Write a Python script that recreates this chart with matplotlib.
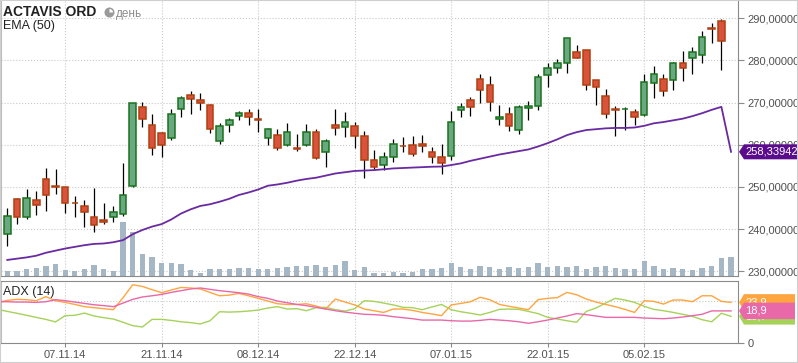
# -*- coding: utf-8 -*-
"""
Grafico de velas ACTAVIS ORD con EMA(50), volumen y panel ADX(14).
"""
import numpy as np
import matplotlib
matplotlib.use('Agg')
import matplotlib.pyplot as plt
from matplotlib.patches import Rectangle, Polygon, Circle, Wedge
from matplotlib.transforms import blended_transform_factory, Affine2D

plt.rcParams['font.family'] = ['Liberation Sans', 'DejaVu Sans']

# Datos diarios (30.10.14 - 18.02.15)
apertura = [238.9, 247.1, 242.8, 246.8, 251.8, 250.35, 250.0, 246.25, 245.6, 242.8,
            242.1, 242.8, 243.6, 250.3, 269.05, 264.8, 262.9, 261.7, 268.6, 271.7,
            270.7, 269.5, 261.0, 264.8, 266.9, 267.6, 266.2, 261.5, 262.4, 260.0,
            259.35, 260.0, 263.1, 258.2, 264.8, 264.3, 264.55, 262.0, 256.5, 255.1,
            257.2, 259.8, 260.05, 260.3, 258.2, 257.2, 257.4, 268.3, 270.7, 275.5,
            274.1, 266.2, 267.2, 263.4, 268.8, 269.1, 276.5, 278.1, 279.5, 281.9,
            282.4, 275.3, 271.5, 268.5, 268.4, 267.7, 267.1, 274.6, 275.5, 275.3,
            279.3, 280.7, 281.2, 287.6, 289.3]
maximo = [245.0, 247.3, 249.5, 249.0, 254.5, 254.2, 250.1, 247.8, 246.9, 249.7,
          246.3, 245.4, 255.6, 269.8, 270.2, 267.2, 263.0, 268.4, 271.5, 272.8,
          272.4, 269.6, 265.2, 266.45, 267.95, 268.4, 268.4, 264.0, 263.7, 265.1,
          262.5, 264.9, 263.7, 261.3, 268.4, 267.7, 265.5, 263.2, 258.7, 258.2,
          261.3, 261.8, 262.0, 262.3, 259.4, 260.1, 268.0, 270.0, 271.4, 276.8,
          276.3, 269.4, 268.9, 269.4, 270.4, 276.9, 279.4, 280.3, 285.3, 283.7,
          282.6, 275.4, 273.2, 269.3, 268.9, 268.5, 276.8, 278.7, 276.8, 279.7,
          282.2, 283.1, 287.1, 288.8, 289.8]
minimo = [236.1, 241.3, 242.5, 243.4, 244.3, 248.4, 243.9, 242.9, 240.6, 239.4,
          241.3, 241.7, 243.2, 250.0, 264.2, 257.6, 257.1, 261.2, 266.6, 267.3,
          268.3, 262.8, 260.2, 263.05, 265.9, 264.7, 263.05, 260.0, 258.8, 259.7,
          258.6, 259.7, 256.7, 254.8, 262.3, 261.9, 259.3, 252.2, 254.3, 254.1,
          256.0, 258.3, 257.4, 258.3, 255.7, 253.1, 256.3, 266.5, 266.8, 269.9,
          268.1, 264.7, 263.3, 262.6, 265.9, 268.3, 273.8, 277.1, 277.1, 280.5,
          273.1, 269.5, 266.4, 262.1, 263.6, 264.7, 266.8, 271.2, 271.6, 273.0,
          275.2, 276.9, 279.5, 284.2, 277.8]
cierre = [243.2, 242.8, 247.5, 245.8, 248.2, 250.1, 246.3, 246.1, 244.0, 241.1,
          241.7, 244.0, 248.2, 269.8, 266.2, 259.3, 260.05, 267.2, 271.2, 270.9,
          269.8, 263.8, 264.55, 266.0, 267.6, 266.7, 265.9, 263.8, 259.3, 263.1,
          259.0, 263.1, 256.9, 261.0, 264.1, 265.5, 262.2, 256.5, 254.85, 257.2,
          260.3, 259.6, 257.9, 259.6, 257.2, 255.6, 265.3, 269.05, 269.05, 273.0,
          270.2, 266.5, 264.35, 268.9, 269.1, 276.0, 278.1, 279.3, 285.25, 280.7,
          274.3, 273.8, 267.2, 268.3, 268.6, 266.6, 274.8, 276.7, 272.7, 279.3,
          278.1, 281.9, 285.5, 287.4, 284.5]
# Volumen en millones (incluye el dia 19.02.15 sin vela)
volumen = [2.5, 2.5, 3.5, 4.0, 5.0, 6.0, 3.0, 2.5, 3.5, 5.5,
           3.5, 2.5, 27.0, 22.0, 11.0, 9.5, 6.5, 6.5, 6.0, 3.0,
           1.5, 3.5, 3.5, 3.5, 4.0, 4.0, 3.5, 3.5, 4.0, 4.5,
           5.0, 5.0, 5.5, 4.5, 5.5, 7.5, 3.0, 4.5, 1.5, 1.5,
           2.0, 1.5, 2.0, 3.5, 3.5, 4.0, 6.5, 4.5, 3.5, 5.0,
           4.5, 3.5, 4.5, 4.0, 4.5, 6.5, 4.5, 5.0, 4.5, 5.0,
           3.5, 4.5, 5.0, 4.0, 3.5, 3.5, 7.5, 5.0, 3.5, 4.0,
           3.5, 3.0, 4.0, 5.0, 9.0, 9.5]
ema50 = [232.7, 233.0, 233.3, 233.7, 234.4, 234.9, 235.4, 235.8, 236.2, 236.5,
         236.6, 236.9, 237.4, 238.8, 239.8, 240.6, 241.2, 242.3, 243.7, 244.7,
         245.5, 245.9, 246.5, 247.2, 248.1, 248.7, 249.4, 250.3, 250.6, 251.0,
         251.5, 251.9, 252.2, 252.7, 253.2, 253.5, 253.8, 253.9, 254.0, 254.2,
         254.4, 254.5, 254.6, 254.7, 254.8, 254.85, 255.2, 255.6, 256.2, 256.7,
         257.2, 257.7, 258.1, 258.5, 258.9, 259.6, 260.4, 261.3, 262.3, 263.0,
         263.5, 263.7, 263.9, 264.0, 264.0, 264.1, 264.5, 265.1, 265.4, 265.8,
         266.2, 266.8, 267.5, 268.3, 269.0, 258.33942]

# ADX(14): desde el dia 29.10.14 (indice -1) hasta 19.02.15
adx_inicio = -1
di_mas = [23.9, 25.1, 25.7, 25.5, 24.9, 27.3, 24.9, 23.9, 22.7, 21.4,
          20.8, 20.2, 19.6, 26.7, 34.3, 33.3, 31.4, 29.6, 31.2, 32.7,
          32.4, 31.8, 29.8, 27.8, 28.2, 29.2, 27.8, 26.3, 24.7, 23.1,
          22.7, 22.7, 23.1, 21.8, 20.0, 25.9, 24.1, 22.4, 20.0, 19.0,
          18.0, 20.0, 20.0, 19.2, 18.0, 17.1, 16.1, 22.4, 23.3, 24.3,
          26.9, 25.5, 22.7, 21.6, 20.6, 19.6, 25.5, 26.3, 26.7, 29.8,
          28.4, 25.9, 24.1, 22.7, 21.4, 19.8, 18.0, 24.9, 24.5, 22.9,
          25.3, 25.3, 24.3, 27.8, 27.8, 24.5, 23.9]
di_menos = [19.8, 18.6, 17.5, 16.3, 15.1, 13.9, 12.4, 16.1, 16.3, 17.6,
            15.9, 14.9, 14.1, 12.2, 10.2, 9.4, 13.9, 13.9, 13.3, 12.5,
            12.0, 11.2, 13.1, 18.4, 18.2, 18.4, 18.8, 19.4, 20.6, 21.4,
            20.0, 20.2, 19.0, 20.8, 21.0, 19.6, 18.8, 20.2, 24.9, 24.5,
            23.5, 22.4, 21.0, 20.8, 19.6, 21.2, 22.7, 19.6, 18.4, 17.5,
            16.5, 18.0, 19.8, 20.0, 19.8, 18.6, 17.3, 15.1, 14.1, 13.1,
            12.2, 18.6, 20.6, 23.5, 26.3, 25.3, 23.9, 21.6, 19.8, 19.0,
            18.0, 16.9, 15.7, 13.7, 12.5, 17.5, 15.7]
adx = [24.3, 24.3, 24.1, 24.1, 23.9, 24.3, 25.5, 24.9, 24.1, 23.3,
       22.5, 22.0, 21.4, 23.5, 25.7, 27.1, 27.8, 28.6, 29.8, 30.8,
       31.8, 32.4, 31.6, 30.8, 30.2, 29.6, 28.8, 27.3, 26.3, 24.7,
       23.7, 22.7, 22.0, 21.0, 20.0, 19.0, 18.2, 17.5, 16.9, 16.7,
       16.3, 15.5, 14.9, 14.3, 13.5, 13.5, 13.5, 13.1, 12.9, 12.9,
       13.3, 13.9, 13.5, 13.1, 12.5, 11.6, 12.5, 13.5, 14.7, 15.9,
       17.3, 16.7, 15.9, 15.1, 15.1, 15.1, 15.1, 14.7, 14.5, 14.3,
       14.7, 15.3, 16.1, 16.9, 18.9, 18.9, 18.9]

etiquetas_fechas = ['07.11.14', '21.11.14', '08.12.14', '22.12.14', '07.01.15', '22.01.15', '05.02.15']
dias_fechas = [6, 16, 26, 36, 46, 56, 66]
niveles_precio = [230, 240, 250, 260, 270, 280, 290]

_W, _H = 798, 363
_COLOR_GRID = '#c9c9c9'
_COLOR_EJE = '#8a8a8a'
_COLOR_TEXTO = '#505050'
_COLOR_SUBE = '#6aa882'
_BORDE_SUBE = '#19731c'
_COLOR_BAJA = '#d9533c'
_BORDE_BAJA = '#b0400f'
_COLOR_VOL = '#a5b6c4'
_COLOR_EMA = '#6a2aa2'
_COLOR_TAG_EMA = '#5a0c8c'
_COLOR_MAS = '#ffa53f'
_COLOR_MENOS = '#a6d25a'
_COLOR_ADX = '#e868a8'
_VOL_TOPE = 138.0


def caja(x0, y0, x1, y1):
    """Convierte una caja en pixeles (origen arriba) a fracciones de figura"""
    return [x0 / _W, 1 - y1 / _H, (x1 - x0) / _W, (y1 - y0) / _H]


def etiqueta(fig, y_disp, texto, color, z, x1=_W + 2, alto=15):
    """Etiqueta con punta a la izquierda sobre el eje derecho"""
    x0 = 739
    pts = np.array([(x0, y_disp), (x0 + 5, y_disp + alto / 2.0), (x1, y_disp + alto / 2.0),
                    (x1, y_disp - alto / 2.0), (x0 + 5, y_disp - alto / 2.0)]) / fig.dpi
    fig.add_artist(Polygon(pts, closed=True, transform=fig.dpi_scale_trans, facecolor=color,
                           edgecolor='none', zorder=z))
    fig.text((x0 + 6) / _W, y_disp / _H, texto, color='white', fontsize=8, va='center', zorder=z + 1)


fig = plt.figure(figsize=(_W / 100.0, _H / 100.0), dpi=100)
fig.patch.set_facecolor('white')

ax = fig.add_axes(caja(1, 0, 738, 276))
ax_adx = fig.add_axes(caja(1, 281, 738, 343))

x_lim = (-0.65, 75.72)

# Volumen sobre el panel de precios
trans_vol = blended_transform_factory(ax.transData, Affine2D().scale(1, 1 / _VOL_TOPE) + ax.transAxes)
ax.bar(np.arange(len(volumen)), volumen, width=0.55, color=_COLOR_VOL, transform=trans_vol, zorder=1)

# Velas
for i in range(len(apertura)):
    o, h, l, c = apertura[i], maximo[i], minimo[i], cierre[i]
    sube = c >= o
    ax.vlines(i, l, h, color='black', linewidth=0.9, zorder=2)
    ax.add_patch(Rectangle((i - 0.34, min(o, c)), 0.68, max(abs(c - o), 0.12),
                           facecolor=_COLOR_SUBE if sube else _COLOR_BAJA,
                           edgecolor=_BORDE_SUBE if sube else _BORDE_BAJA, linewidth=1.1, zorder=3))

ax.plot(np.arange(len(ema50)), ema50, color=_COLOR_EMA, linewidth=1.3, zorder=4)

ax.set_xlim(x_lim)
ax.set_ylim(228.89, 294.34)
ax.set_xticks(dias_fechas)
ax.set_yticks(niveles_precio)
ax.set_yticklabels(['%d,00000' % k for k in niveles_precio])
ax.yaxis.tick_right()
ax.tick_params(axis='x', length=0, labelbottom=False)
ax.tick_params(axis='y', length=4, width=0.8, color=_COLOR_EJE, labelcolor=_COLOR_TEXTO,
               labelsize=8, pad=3)
ax.grid(True, linestyle=':', color=_COLOR_GRID, linewidth=0.8, zorder=0)
ax.set_axisbelow(True)
ax.spines['top'].set_visible(False)
ax.spines['left'].set_color('#bdbdbd')
ax.spines['right'].set_color(_COLOR_EJE)
ax.spines['bottom'].set_color(_COLOR_EJE)
ax.patch.set_alpha(0)

# Panel ADX
x_adx = np.arange(adx_inicio, adx_inicio + len(adx))
ax_adx.plot(x_adx, di_menos, color=_COLOR_MENOS, linewidth=1.0, zorder=3)
ax_adx.plot(x_adx, di_mas, color=_COLOR_MAS, linewidth=1.0, zorder=3)
ax_adx.plot(x_adx, adx, color=_COLOR_ADX, linewidth=1.0, zorder=3)
ax_adx.axhline(25, linestyle=':', color=_COLOR_GRID, linewidth=0.8, zorder=0)
ax_adx.set_xlim(x_lim)
ax_adx.set_ylim(0, 36.5)
ax_adx.set_xticks(dias_fechas)
ax_adx.set_xticklabels(etiquetas_fechas)
ax_adx.set_yticks([0])
ax_adx.yaxis.tick_right()
ax_adx.grid(True, axis='x', linestyle=':', color=_COLOR_GRID, linewidth=0.8, zorder=0)
ax_adx.tick_params(axis='both', length=3, width=0.8, color=_COLOR_EJE, labelcolor=_COLOR_TEXTO,
                   labelsize=8, pad=2)
ax_adx.tick_params(axis='y', length=4, pad=3)
for lado in ['top', 'bottom', 'right']:
    ax_adx.spines[lado].set_color(_COLOR_EJE)
ax_adx.spines['left'].set_color('#bdbdbd')

# Titulos
fig.text(3 / _W, 1 - 12.5 / _H, 'ACTAVIS ORD', fontsize=10, fontweight='bold', color='#222222', va='center')
reloj_x, reloj_y = 109.5 / 100.0, (_H - 12.5) / 100.0
fig.add_artist(Circle((reloj_x, reloj_y), 0.05, transform=fig.dpi_scale_trans, facecolor='#9a9a9a',
                      edgecolor='none'))
fig.add_artist(Wedge((reloj_x, reloj_y), 0.035, 0, 90, transform=fig.dpi_scale_trans, facecolor='white',
                     edgecolor='none'))
fig.text(116 / _W, 1 - 14 / _H, 'день', fontsize=8.5, color='#8c8c8c', va='center')
fig.text(3 / _W, 1 - 26.5 / _H, 'EMA (50)', fontsize=9, color='#222222', va='center')
fig.text(3 / _W, 1 - 292 / _H, 'ADX (14)', fontsize=9, color='#222222', va='center')

# Etiquetas de ultimo valor
y_ema = ax.transData.transform((0, ema50[-1]))[1]
etiqueta(fig, y_ema, ('%.5f' % ema50[-1]).replace('.', ','), _COLOR_TAG_EMA, 20)
for k, (serie, color) in enumerate([(di_menos, _COLOR_MENOS), (di_mas, _COLOR_MAS), (adx, _COLOR_ADX)]):
    y_val = ax_adx.transData.transform((0, serie[-1]))[1]
    etiqueta(fig, y_val, ('%.1f' % serie[-1]).replace('.', ','), color, 10 + 2 * k, x1=795, alto=16.5)

# Marco exterior
fig.add_artist(Rectangle((0, 0), 1, 1, transform=fig.transFigure, fill=False, edgecolor='#cfcfcf',
                         linewidth=1.5, zorder=30))

fig.savefig('out.png', dpi=100)
